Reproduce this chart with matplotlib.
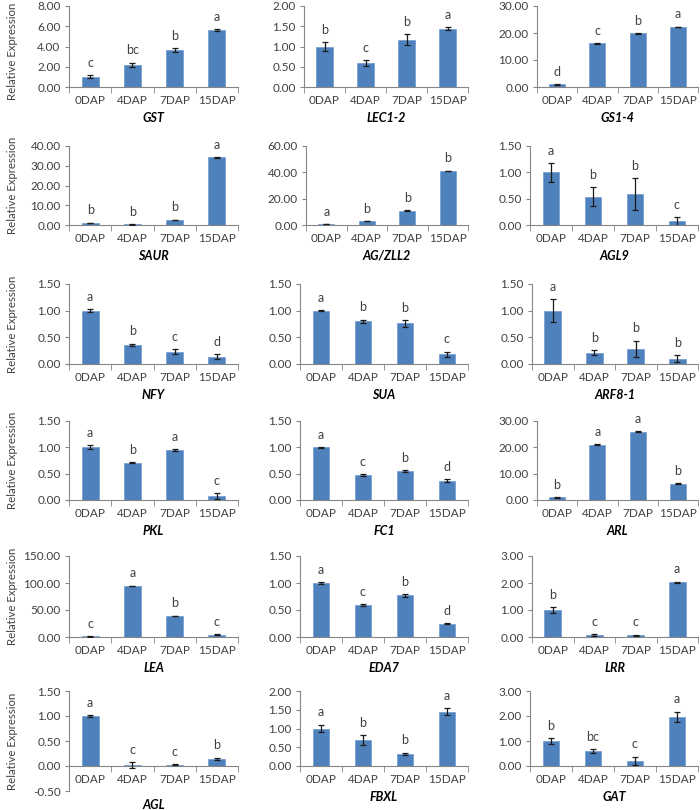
import matplotlib
matplotlib.use("Agg")
from matplotlib import pyplot as plt
import numpy as np

plt.rcParams['font.family'] = ['Lato', 'DejaVu Sans']

stages = ['0DAP', '4DAP', '7DAP', '15DAP']

genes = ['GST', 'LEC1-2', 'GS1-4',
         'SAUR', 'AG/ZLL2', 'AGL9',
         'NFY', 'SUA', 'ARF8-1',
         'PKL', 'FC1', 'ARL',
         'LEA', 'EDA7', 'LRR',
         'AGL', 'FBXL', 'GAT']

means = [[1.00, 2.20, 3.65, 5.60], [1.00, 0.60, 1.17, 1.44], [1.00, 16.2, 19.9, 22.3],
         [1.00, 0.30, 2.50, 34.2], [0.80, 3.00, 11.0, 41.0], [1.00, 0.54, 0.59, 0.07],
         [1.00, 0.36, 0.23, 0.14], [1.00, 0.80, 0.76, 0.18], [1.00, 0.21, 0.29, 0.10],
         [1.00, 0.71, 0.95, 0.07], [1.00, 0.47, 0.55, 0.37], [1.00, 21.0, 26.0, 6.20],
         [1.00, 95.0, 39.0, 4.50], [1.00, 0.59, 0.77, 0.25], [1.00, 0.07, 0.07, 2.02],
         [1.00, 0.02, 0.03, 0.15], [1.00, 0.69, 0.33, 1.45], [1.00, 0.59, 0.21, 1.98]]

errors = [[0.15, 0.20, 0.18, 0.08], [0.11, 0.07, 0.13, 0.04], [0.10, 0.10, 0.10, 0.10],
          [0.20, 0.05, 0.20, 0.20], [0.10, 0.10, 0.20, 0.30], [0.18, 0.18, 0.30, 0.08],
          [0.03, 0.02, 0.05, 0.05], [0.01, 0.03, 0.06, 0.05], [0.21, 0.05, 0.15, 0.07],
          [0.04, 0.01, 0.02, 0.06], [0.01, 0.02, 0.02, 0.03], [0.10, 0.10, 0.20, 0.10],
          [0.30, 0.30, 0.60, 0.50], [0.01, 0.02, 0.02, 0.01], [0.10, 0.03, 0.02, 0.03],
          [0.02, 0.06, 0.01, 0.02], [0.10, 0.14, 0.03, 0.10], [0.12, 0.08, 0.16, 0.20]]

letters = [['c', 'bc', 'b', 'a'], ['b', 'c', 'b', 'a'], ['d', 'c', 'b', 'a'],
           ['b', 'b', 'b', 'a'], ['a', 'b', 'b', 'b'], ['a', 'b', 'b', 'c'],
           ['a', 'b', 'c', 'd'], ['a', 'b', 'b', 'c'], ['a', 'b', 'b', 'b'],
           ['a', 'b', 'a', 'c'], ['a', 'c', 'b', 'd'], ['b', 'a', 'a', 'b'],
           ['c', 'a', 'b', 'c'], ['a', 'c', 'b', 'd'], ['b', 'c', 'c', 'a'],
           ['a', 'c', 'c', 'b'], ['a', 'b', 'b', 'a'], ['b', 'bc', 'c', 'a']]

# y-axis ranges (min, max, step)
y_ranges = [(0, 8, 2), (0, 2, 0.5), (0, 30, 10),
            (0, 40, 10), (0, 60, 20), (0, 1.5, 0.5),
            (0, 1.5, 0.5), (0, 1.5, 0.5), (0, 1.5, 0.5),
            (0, 1.5, 0.5), (0, 1.5, 0.5), (0, 30, 10),
            (0, 150, 50), (0, 1.5, 0.5), (0, 3, 1),
            (-0.5, 1.5, 0.5), (0, 2, 0.5), (0, 3, 1)]

# panel placement in pixels (left edge per panel, top/bottom per row)
lefts = [[69, 304, 537], [69, 306, 530], [69, 300, 532],
         [69, 300, 537], [69, 300, 532], [69, 300, 530]]
rights = [238, 468, 698]
rows_tb = [(6, 87), (146, 225), (284, 364), (421, 500), (556, 637), (691, 766)]

W, H = 700, 810
bar_colour = '#4F81BD'
axis_colour = '#868686'
text_colour = '#404040'

fig = plt.figure(figsize=(W / 100, H / 100), dpi=100)

for i, gene in enumerate(genes):
    r, c = divmod(i, 3)
    lo, hi, step = y_ranges[i]
    top, bottom = rows_tb[r]
    if lo < 0:
        # extend the panel below zero with the same scale
        bottom = bottom + (bottom - top) * (-lo) / hi
    left, right = lefts[r][c], rights[c]
    ax = fig.add_axes([left / W, 1 - bottom / H, (right - left) / W, (bottom - top) / H])

    x = np.arange(4) + 0.5
    ax.bar(x, means[i], width=0.4, color=bar_colour, edgecolor='#6f9bd1', linewidth=0.5, zorder=2)
    ax.errorbar(x, means[i], yerr=errors[i], fmt='none', ecolor='#1a1a1a',
                elinewidth=0.9, capsize=2.5, capthick=0.9, zorder=3)
    for xi, m, e, lab in zip(x, means[i], errors[i], letters[i]):
        ax.annotate(lab, (xi, m + e), xytext=(0, 4.5), textcoords='offset points',
                    ha='center', va='bottom', fontsize=9, color=text_colour)

    ax.set_xlim(0, 4)
    ax.set_ylim(lo, hi)
    ax.set_yticks(np.arange(lo, hi + step / 2, step))
    ax.set_yticklabels([f'{v:.2f}' for v in np.arange(lo, hi + step / 2, step)])
    ax.set_xticks(x)
    ax.set_xticklabels(stages)
    ax.set_xticks(np.arange(5), minor=True)
    ax.tick_params(axis='x', which='major', length=0, pad=6, labelsize=8.5, labelcolor=text_colour)
    ax.tick_params(axis='x', which='minor', length=4, color=axis_colour, direction='out')
    ax.tick_params(axis='y', length=3, color=axis_colour, labelsize=8.5, labelcolor=text_colour, pad=3)

    for s in ['top', 'right']:
        ax.spines[s].set_visible(False)
    for s in ['left', 'bottom']:
        ax.spines[s].set_color(axis_colour)
        ax.spines[s].set_linewidth(0.8)
    if lo < 0:
        ax.spines['bottom'].set_position(('data', 0))

    ax.set_xlabel(gene, fontsize=9, fontweight='bold', fontstyle='italic', labelpad=4, color='black')
    if lo < 0:
        ax.xaxis.set_label_coords(0.5, -0.08)
    if c == 0:
        ax.set_ylabel('Relative Expression', fontsize=8.2, color=text_colour)
        ax.yaxis.set_label_coords(-0.30, 0.44 if r == 0 else 0.5)

fig.savefig('out.png', dpi=100)
